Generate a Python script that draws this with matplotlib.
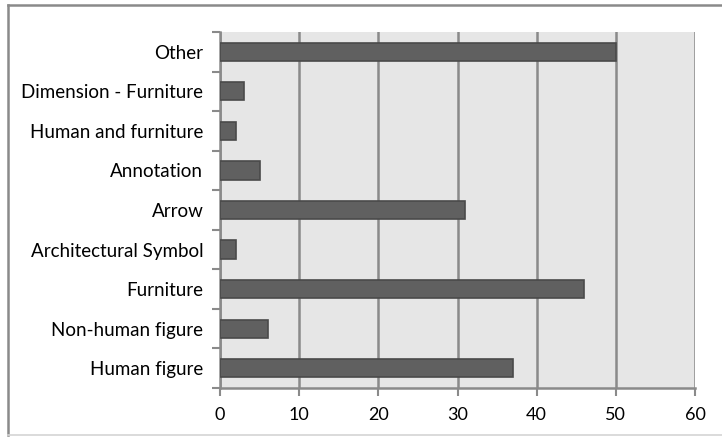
import matplotlib.pyplot as plt
from matplotlib.lines import Line2D

# categories bottom to top
categories = ['Human figure', 'Non-human figure', 'Furniture', 'Architectural Symbol',
              'Arrow', 'Annotation', 'Human and furniture', 'Dimension - Furniture', 'Other']
counts = [37, 6, 46, 2, 31, 5, 2, 3, 50]
xticks = [0, 10, 20, 30, 40, 50, 60]

plt.rcParams['font.family'] = ['Lato', 'DejaVu Sans']

fig = plt.figure(figsize=(7.22, 4.37), dpi=100)
ax = fig.add_axes([220 / 722, 1 - 388 / 437, 475 / 722, 356 / 437])

# outer chart frame: dark top and left, faint bottom
frame = '#8a8a8a'
fig.lines.append(Line2D([8 / 722, 1], [1 - 5 / 437, 1 - 5 / 437], transform=fig.transFigure,
                        color=frame, linewidth=1.8))
fig.lines.append(Line2D([8 / 722, 8 / 722], [1 - 5 / 437, 1 - 435 / 437], transform=fig.transFigure,
                        color=frame, linewidth=1.8))
fig.lines.append(Line2D([8 / 722, 1], [1 - 435 / 437, 1 - 435 / 437], transform=fig.transFigure,
                        color='#d4d4d4', linewidth=1.2))

ax.set_facecolor('#e6e6e6')
y = range(len(categories))
ax.barh(y, counts, height=0.46, color='#606060', edgecolor='#4a4a4a', linewidth=1.2, zorder=3)

ax.set_xlim(0, 60)
ax.set_ylim(-0.5, len(categories) - 0.5)
ax.set_xticks(xticks)
ax.set_xticklabels([str(v) for v in xticks], fontsize=13)
ax.set_yticks([i - 0.5 for i in range(len(categories) + 1)])
ax.set_yticklabels([])
ax.set_yticks(list(y), minor=True)
ax.set_yticklabels(categories, minor=True, fontsize=13.5)
ax.tick_params(axis='y', which='minor', length=0, pad=12)
ax.tick_params(axis='y', which='major', length=6, width=1.5, color=frame)
ax.tick_params(axis='x', length=6, width=1.5, color=frame, pad=8)

ax.grid(axis='x', color=frame, linewidth=1.8, zorder=1)
ax.set_axisbelow(True)
for side in ['top', 'right']:
    ax.spines[side].set_visible(False)
for side in ['left', 'bottom']:
    ax.spines[side].set_color(frame)
    ax.spines[side].set_linewidth(1.8)

fig.savefig('out.png', dpi=100)
